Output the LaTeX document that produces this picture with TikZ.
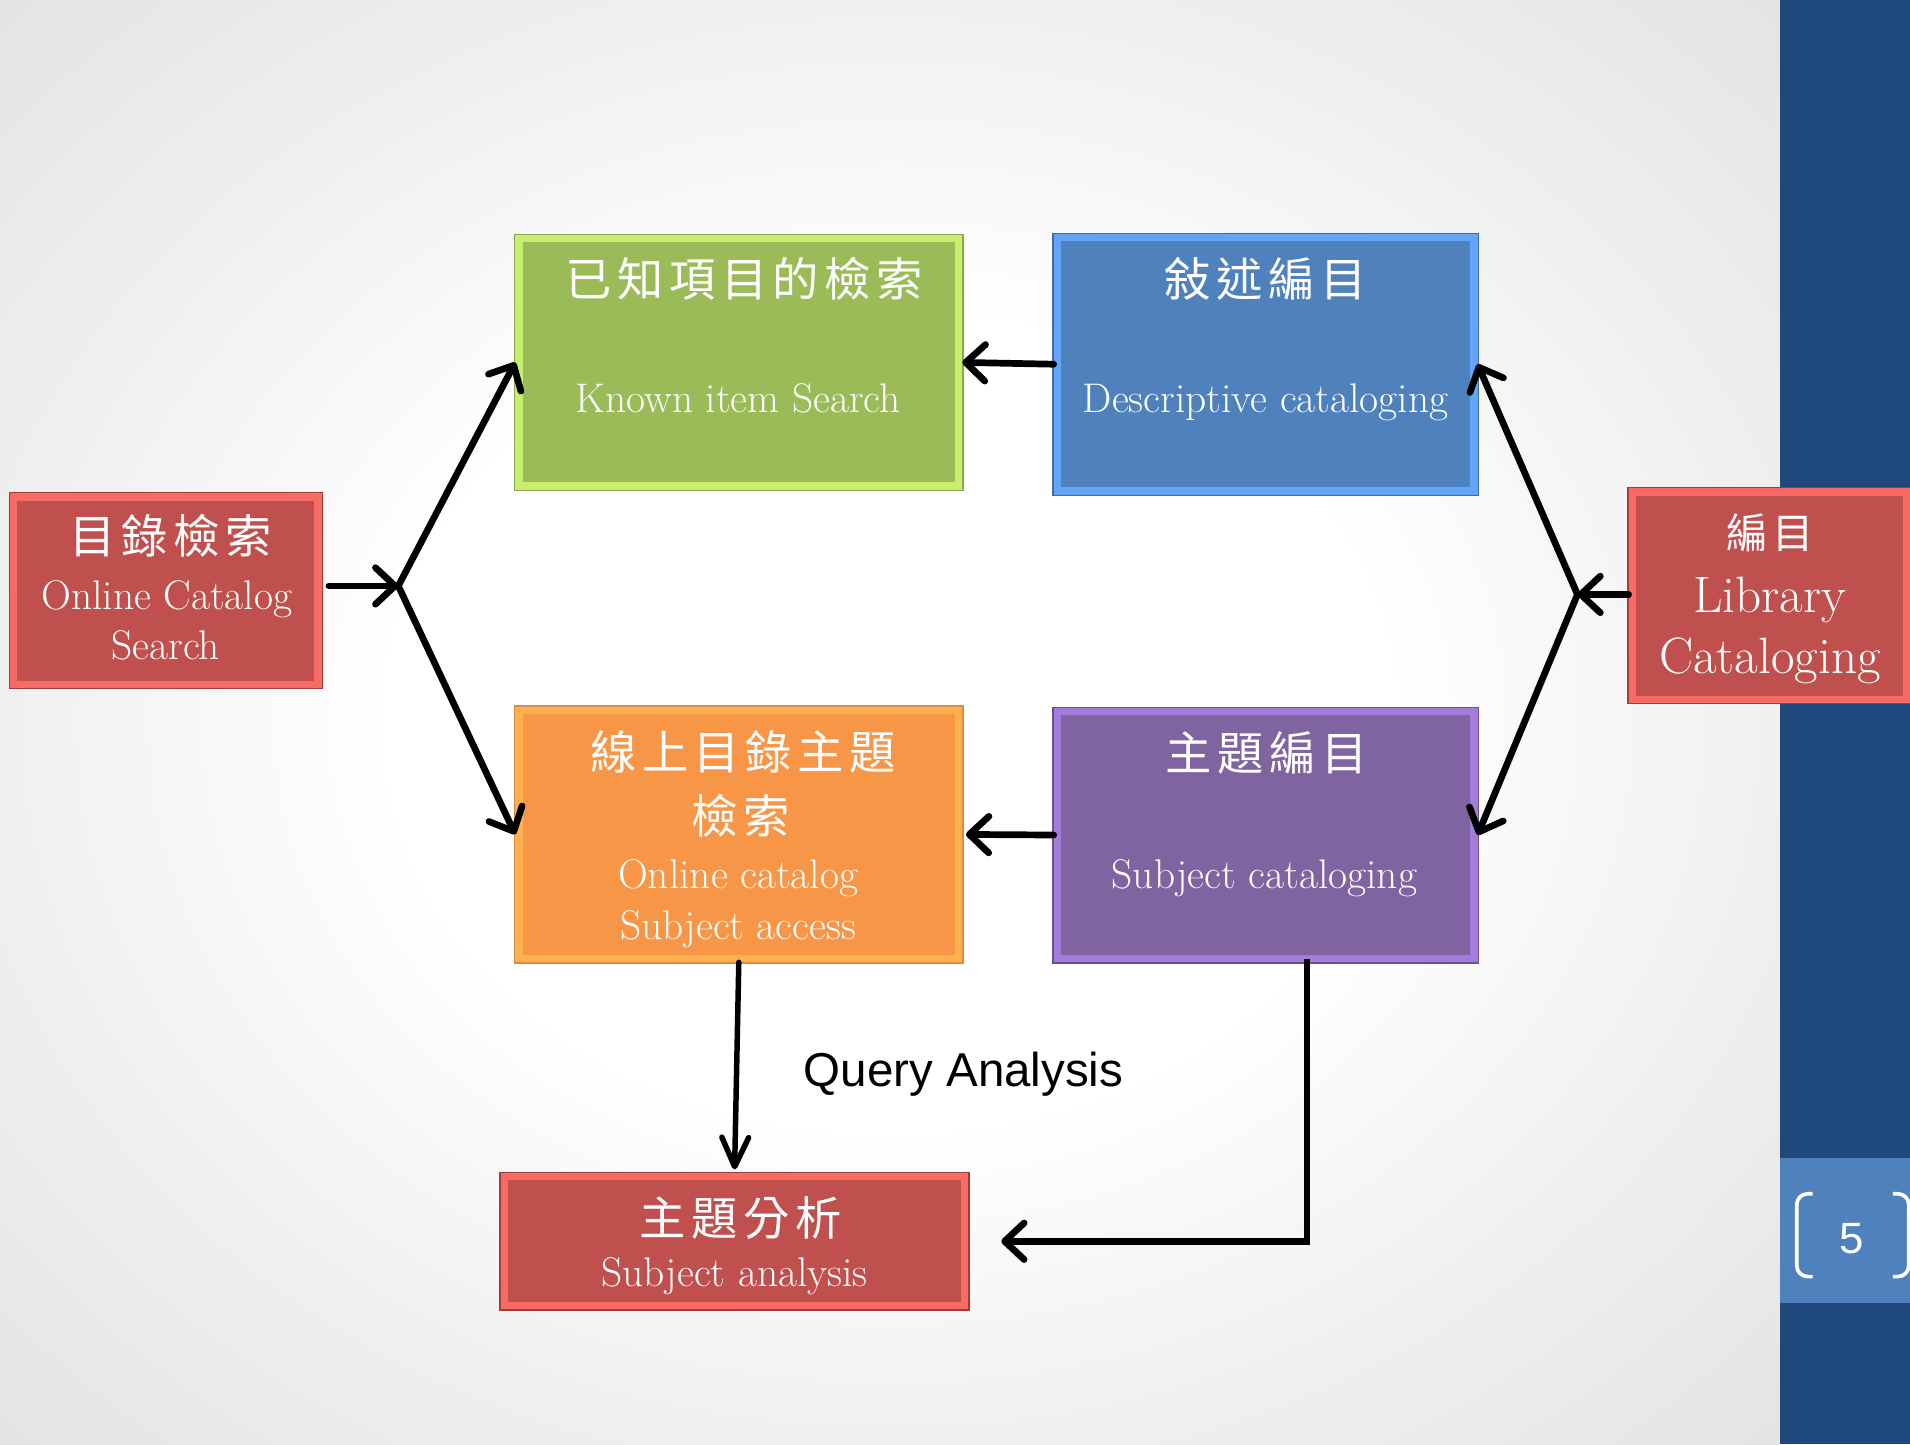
\documentclass[tikz,border=0pt]{standalone}
\usepackage{fontspec}
\newfontfamily\cjk[LetterSpace=12]{Noto Sans CJK TC}
\newfontfamily\sansf{Liberation Sans}
\usetikzlibrary{arrows.meta,calc}
\definecolor{redF}{HTML}{C0504D}\definecolor{redB}{HTML}{F86A65}\definecolor{redR}{HTML}{A33B38}
\definecolor{greenF}{HTML}{9BBB59}\definecolor{greenB}{HTML}{C7EE6C}\definecolor{greenR}{HTML}{8CA64E}
\definecolor{blueF}{HTML}{4F81BD}\definecolor{blueB}{HTML}{62A4F7}\definecolor{blueR}{HTML}{3E6DA6}
\definecolor{orangeF}{HTML}{F79646}\definecolor{orangeB}{HTML}{FFB14F}\definecolor{orangeR}{HTML}{E0883D}
\definecolor{purpleF}{HTML}{8064A2}\definecolor{purpleB}{HTML}{A47CDB}\definecolor{purpleR}{HTML}{6B528A}
\definecolor{barBlue}{HTML}{1F497D}\definecolor{pgBlue}{HTML}{4F81BD}
\pgfdeclareradialshading{bgshade}{\pgfpoint{0bp}{0bp}}{color(0bp)=(white); color(14bp)=(white); color(25bp)=(black!6); color(36bp)=(black!11); color(50bp)=(black!11)}
\tikzset{
  bx/.style n args={3}{rectangle, inner sep=0pt, fill=#1, draw=#2, line width=6pt, preaction={draw=#3, line width=8pt}},
  zh/.style={font=\cjk\fontsize{38}{42}\selectfont, text=white, inner sep=0pt},
  en/.style={font=\fontsize{34}{38}\selectfont, text=white, inner sep=0pt, anchor=base},
  enL/.style={font=\fontsize{42}{46}\selectfont, text=white, inner sep=0pt, anchor=base},
  arr/.style={line width=5.5pt, line cap=round, -{Straight Barb[length=16pt,width=30pt,line width=5.5pt,round]}},
  varr/.style={line width=4.5pt, line cap=round, -{Straight Barb[length=24pt,width=22pt,line width=4.5pt,round]}},
}
\begin{document}
\begin{tikzpicture}[x=1pt,y=1pt]
\useasboundingbox (0,0) rectangle (1568,-1185.5);
\clip (0,0) rectangle (1568,-1185.5);
% background
\shade[shading=bgshade] (0,0) rectangle (1461,-1185.5);
\fill[barBlue] (1461,0) rectangle (1568,-1185.5);
\fill[pgBlue] (1461,-951) rectangle (1568,-1070);
\draw[white, line width=3pt, rounded corners=9pt] (1488,-980) -- (1475,-980) -- (1475,-1048) -- (1488,-1048);
\draw[white, line width=3pt, rounded corners=9pt] (1554,-980) -- (1567,-980) -- (1567,-1048) -- (1554,-1048);
\node[font=\sansf\fontsize{36}{40}\selectfont, text=white, inner sep=0pt] (pg) at (1520,-1017) {5};

% boxes
\node[bx={redF}{redB}{redR}, minimum width=250, minimum height=154] (r1) at (136,-485) {};
\node[bx={greenF}{greenB}{greenR}, minimum width=361, minimum height=203] (kn) at (606.5,-297.5) {};
\node[bx={blueF}{blueB}{blueR}, minimum width=342, minimum height=208] (de) at (1039,-299) {};
\node[bx={orangeF}{orangeB}{orangeR}, minimum width=361, minimum height=204] (os) at (606.5,-685) {};
\node[bx={purpleF}{purpleB}{purpleR}, minimum width=342, minimum height=203] (sc) at (1039,-685.5) {};
\node[bx={redF}{redB}{redR}, minimum width=225, minimum height=170] (lc) at (1452.5,-489) {};
\node[bx={redF}{redB}{redR}, minimum width=378, minimum height=106] (sa) at (603,-1019) {};

% texts
\node[zh] (r1a) at (140,-440) {目錄檢索};
\node[en] (r1b) at (137,-500) {Online Catalog};
\node[en] (r1c) at (136,-541) {Search};
\node[zh] (kna) at (611,-229) {已知項目的檢索};
\node[en] (knb) at (606,-339) {Known item Search};
\node[zh] (dea) at (1039,-229) {敍述編目};
\node[en] (deb) at (1039,-339) {Descriptive cataloging};
\node[zh] (osa) at (610,-617) {線上目錄主題};
\node[zh] (osb) at (608,-670) {檢索};
\node[en] (osc) at (606,-729) {Online catalog};
\node[en] (osd) at (606,-771) {Subject access};
\node[zh] (sca) at (1040,-618) {主題編目};
\node[en] (scb) at (1038,-729) {Subject cataloging};
\node[zh, font=\cjk\fontsize{34}{38}\selectfont] (lca) at (1453,-437) {編目};
\node[enL] (lcb) at (1453,-503) {Library};
\node[enL] (lcc) at (1453,-553) {Cataloging};
\node[zh] (saa) at (608,-1000) {主題分析};
\node[en] (sab) at (603,-1056) {Subject analysis};
\node[font=\sansf\fontsize{39}{44}\selectfont, inner sep=0pt, anchor=base] (qa) at (791,-892) {Query Analysis};

% junctions
\coordinate (jL) at (327,-481);
\coordinate (jR) at (1295,-488);

% connectors
\draw[arr, shorten <=6pt] (r1.east |- jL) -- (jL);
\draw[arr] (jL) -- (kn.west);
\draw[arr] (jL) -- (os.west);
\draw[arr] (lc.west |- jR) -- (jR);
\draw[arr] (jR) -- (de.east);
\draw[arr] (jR) -- (sc.east);
\draw[arr] (de.west) -- (kn.east);
\draw[arr, shorten >=3pt] (sc.west) -- (os.east);
\draw[varr, shorten >=3pt] (os.south) -- (sa.north);
\draw[arr, line cap=butt, shorten >=27pt] ($(sc.south)+(34,3)$) |- (sa.east);
\end{tikzpicture}
\end{document}
